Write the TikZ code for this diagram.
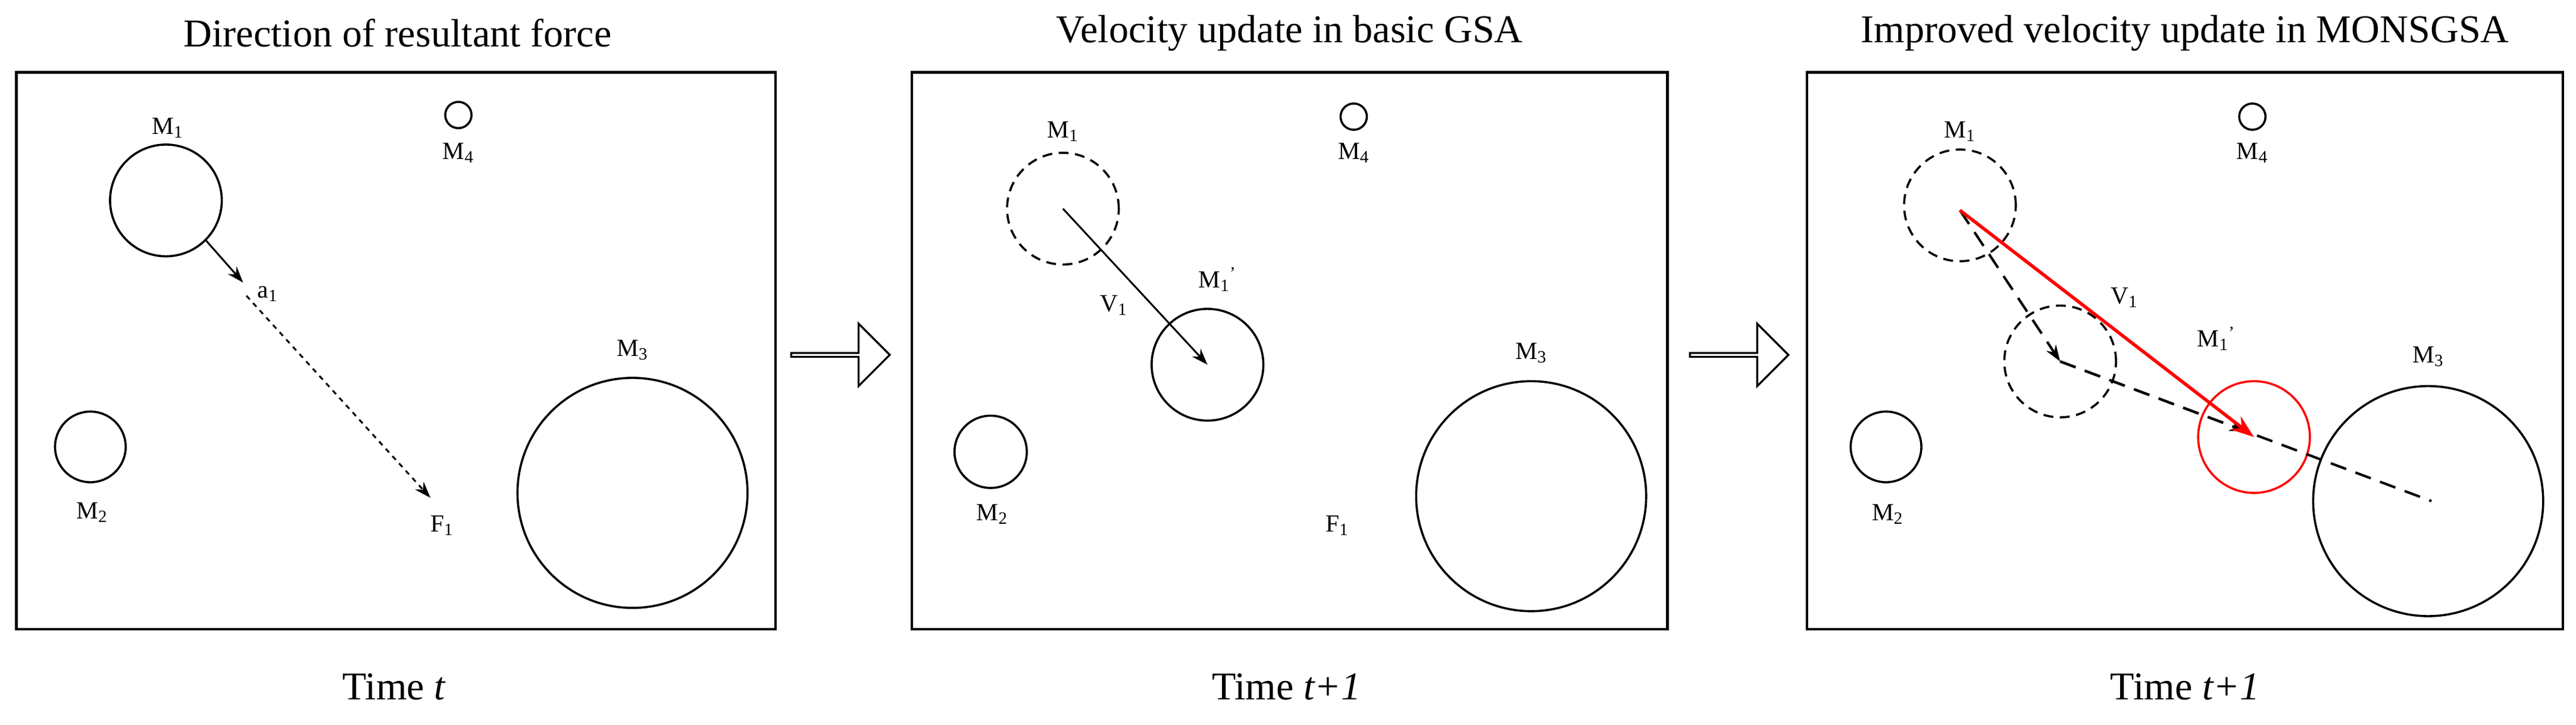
\documentclass[tikz,border=0pt]{standalone}
\usepackage{fontspec}
\setmainfont{Liberation Serif}
\usetikzlibrary{arrows.meta,shapes.arrows,calc}
\begin{document}
\begin{tikzpicture}[x=1pt,y=-1pt,
  panel/.style={draw,line width=1.6pt},
  mass/.style={draw,circle,line width=1.3pt,inner sep=0pt},
  dmass/.style={mass,dashed,dash pattern=on 6pt off 4pt},
  lbl/.style={font=\fontsize{15}{15}\selectfont,inner sep=0pt},
  ttl/.style={font=\fontsize{24}{24}\selectfont,inner sep=0pt},
  arr/.style={-{Stealth[length=10pt,width=7pt]},line width=1.1pt},
  barrow/.style={draw,single arrow,line width=1.2pt,minimum height=60pt,minimum width=38pt,single arrow head extend=9pt,single arrow tip angle=90,inner sep=0pt}]
\useasboundingbox (0,0) rectangle (1568,441);
% Panel 1
\draw[panel] (10,44) rectangle (472,383);
\node[ttl] (t1) at (242,20) {Direction of resultant force};
\node[ttl] (b1) at (240,418) {Time \textit{t}};
\node[mass,minimum size=68pt] (a1m1) at (101,122) {};
\node[lbl] at (102,78) {M\textsubscript{1}};
\node[mass,minimum size=16pt] (a1m4) at (279,70) {};
\node[lbl] at (279,93) {M\textsubscript{4}};
\node[mass,minimum size=43pt] (a1m2) at (55,272) {};
\node[lbl] at (56,312) {M\textsubscript{2}};
\node[mass,minimum size=140pt] (a1m3) at (385,300) {};
\node[lbl] at (385,213) {M\textsubscript{3}};
\coordinate (a1) at (148,172);
\node[lbl] at (163,179) {a\textsubscript{1}};
\draw[arr] (a1m1.-45) -- (a1);
\coordinate (a1s) at (150,180);
\coordinate (f1) at (262,303);
\draw[arr,dashed] (a1s) -- (f1);
\node[lbl] at (269,320) {F\textsubscript{1}};
% arrow 1
\node[barrow] (ba1) at (511,216) {};
% Panel 2
\draw[panel] (555,44) rectangle (1015,383);
\node[ttl] (t2) at (785,20) {Velocity update in basic GSA};
\node[ttl] (b2) at (783,418) {Time \textit{t+1}};
\node[dmass,minimum size=68pt] (b1m1) at (647,127) {};
\node[lbl] at (647,80) {M\textsubscript{1}};
\node[mass,minimum size=16pt] (b1m4) at (824,71) {};
\node[lbl] at (824,93) {M\textsubscript{4}};
\node[mass,minimum size=44pt] (b1m2) at (603,275) {};
\node[lbl] at (604,313) {M\textsubscript{2}};
\node[mass,minimum size=68pt] (b1mp) at (735,222) {};
\node[lbl] at (741,170) {M\textsubscript{1}\textsuperscript{'}};
\draw[arr] (b1m1.center) -- (b1mp.center);
\node[lbl] at (678,186) {V\textsubscript{1}};
\node[mass,minimum size=140pt] (b1m3) at (932,302) {};
\node[lbl] at (932,215) {M\textsubscript{3}};
\node[lbl] at (814,320) {F\textsubscript{1}};
% arrow 2
\node[barrow] (ba2) at (1058,216) {};
% Panel 3
\draw[panel] (1100,44) rectangle (1560,383);
\node[ttl] (t3) at (1330,20) {Improved velocity update in MONSGSA};
\node[ttl] (b3) at (1330,418) {Time \textit{t+1}};
\node[dmass,minimum size=68pt] (c1m1) at (1193,125) {};
\node[lbl] at (1193,80) {M\textsubscript{1}};
\node[mass,minimum size=16pt] (c1m4) at (1371,71) {};
\node[lbl] at (1371,93) {M\textsubscript{4}};
\node[mass,minimum size=43pt] (c1m2) at (1148,272) {};
\node[lbl] at (1149,313) {M\textsubscript{2}};
\node[dmass,minimum size=68pt] (c1mp) at (1254,220) {};
\node[mass,minimum size=140pt] (c1m3) at (1478,305) {};
\node[lbl] at (1478,217) {M\textsubscript{3}};
\node[mass,draw=red,minimum size=68pt] (c1mr) at (1372,266) {};
\coordinate (c1s) at (1193,128);
\draw[arr,dashed,dash pattern=on 10pt off 6pt,line width=1.5pt] (c1s) -- (c1mp.center);
\coordinate (c1e) at (1480,305);
\draw[dashed,dash pattern=on 10pt off 6pt,line width=1.5pt] (c1mp.center) -- (c1e);
\draw[arr,dashed,dash pattern=on 10pt off 6pt,line width=1.5pt] (c1mp.center) -- ($(c1mp.center)!0.5!(c1e)$);
\draw[arr,red,line width=2pt,-{Stealth[length=14pt,width=10pt]}] (c1s) -- (c1mr.center);
\node[lbl] at (1293,181) {V\textsubscript{1}};
\node[lbl] at (1349,206) {M\textsubscript{1}\textsuperscript{'}};
\end{tikzpicture}
\end{document}
